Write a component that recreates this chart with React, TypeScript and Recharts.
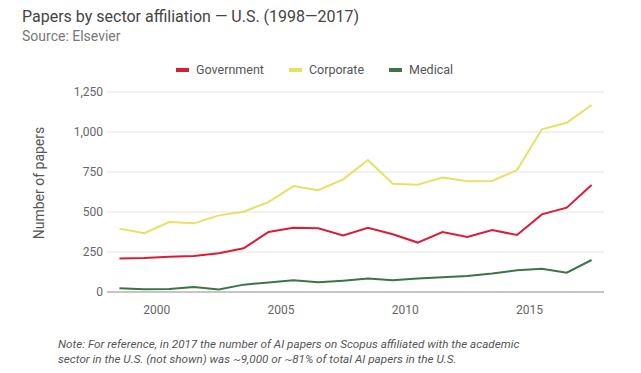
import React from "react";
import { LineChart, Line, XAxis, YAxis, CartesianGrid } from "recharts";

const years = [
    1998, 1999, 2000, 2001, 2002, 2003, 2004, 2005, 2006, 2007,
    2008, 2009, 2010, 2011, 2012, 2013, 2014, 2015, 2016, 2017,
];
const government = [209, 212, 221, 225, 242, 273, 375, 402, 398, 354, 402, 361, 309, 375, 344, 387, 356, 485, 527, 669];
const corporate = [396, 367, 437, 429, 479, 502, 562, 662, 636, 704, 825, 677, 671, 715, 692, 694, 762, 1017, 1058, 1169];
const medical = [23, 17, 19, 31, 15, 46, 59, 73, 61, 71, 84, 73, 84, 92, 100, 115, 136, 146, 121, 200];

const xTicks = [2000, 2005, 2010, 2015];
const yTicks = [0, 250, 500, 750, 1000, 1250];

const series = [
    { key: "government", name: "Government", color: "#dc1c36" },
    { key: "corporate", name: "Corporate", color: "#e6e163" },
    { key: "medical", name: "Medical", color: "#3b7447" },
];

// points sit mid-year on a continuous year axis
const data = years.map((y, i) => ({
    x: y + 0.5,
    government: government[i],
    corporate: corporate[i],
    medical: medical[i],
}));

const font = "Roboto, 'Noto Sans', sans-serif";

const App: React.FC = () => (
    <div style={{ position: "relative", width: 641, height: 373, fontFamily: font, background: "#fff" }}>
        <style>{`body{margin:0}`}</style>
        <div style={{ position: "absolute", left: 22, top: 7, fontSize: 16, color: "#444", whiteSpace: "nowrap" }}>
            Papers by sector affiliation — U.S. (1998—2017)
        </div>
        <div style={{ position: "absolute", left: 22, top: 28, fontSize: 14, color: "#777", whiteSpace: "nowrap" }}>
            Source: Elsevier
        </div>

        <div style={{ position: "absolute", left: 176, top: 62, display: "flex", alignItems: "center", fontSize: 12.5, color: "#555" }}>
            {series.map((s) => (
                <div key={s.key} style={{ display: "flex", alignItems: "center", marginRight: 25 }}>
                    <span style={{ display: "inline-block", width: 13, height: 4, background: s.color, marginRight: 7 }} />
                    <span>{s.name}</span>
                </div>
            ))}
        </div>

        <div
            style={{
                position: "absolute",
                left: 39,
                top: 183,
                transform: "translate(-50%, -50%) rotate(-90deg)",
                fontSize: 14,
                color: "#555",
                whiteSpace: "nowrap",
            }}
        >
            Number of papers
        </div>

        <div style={{ position: "absolute", top: 0, left: 0 }}>
            <LineChart width={641} height={373} data={data} margin={{ top: 92, right: 37, left: 0, bottom: 51 }}>
                <CartesianGrid vertical={false} stroke="#e4e4e4" />
                <XAxis
                    dataKey="x"
                    type="number"
                    domain={[1998, 2018]}
                    ticks={xTicks}
                    height={30}
                    tickLine={false}
                    tickSize={6}
                    tickMargin={7}
                    axisLine={{ stroke: "#999" }}
                    tick={{ fill: "#666", fontSize: 12, fontFamily: font }}
                />
                <YAxis
                    type="number"
                    domain={[0, 1250]}
                    ticks={yTicks}
                    width={107}
                    axisLine={false}
                    tickLine={false}
                    tickSize={0}
                    tickMargin={4}
                    tickFormatter={(v: number) => v.toLocaleString("en-US")}
                    tick={{ fill: "#666", fontSize: 12, fontFamily: font }}
                />
                {series.map((s) => (
                    <Line
                        key={s.key}
                        type="linear"
                        dataKey={s.key}
                        name={s.name}
                        stroke={s.color}
                        strokeWidth={2}
                        dot={false}
                        isAnimationActive={false}
                    />
                ))}
            </LineChart>
        </div>

        <div style={{ position: "absolute", left: 58, top: 337, fontSize: 11.7, fontStyle: "italic", color: "#555", lineHeight: "15px", whiteSpace: "nowrap" }}>
            Note: For reference, in 2017 the number of AI papers on Scopus affiliated with the academic
            <br />
            sector in the U.S. (not shown) was ~9,000 or ~81% of total AI papers in the U.S.
        </div>
    </div>
);

export default App;
